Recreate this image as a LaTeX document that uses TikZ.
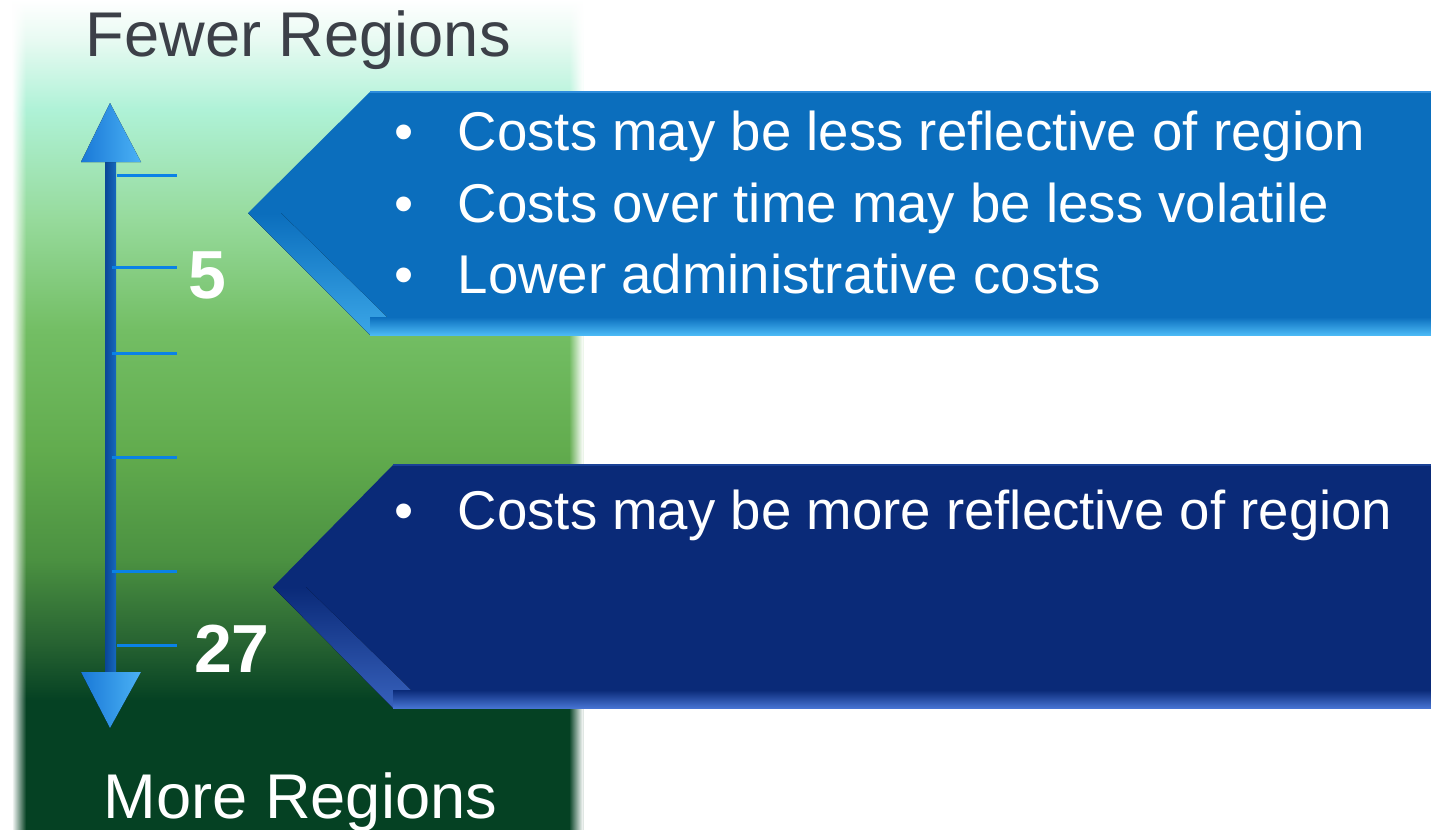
\documentclass[tikz,border=0pt]{standalone}
\usepackage{fontspec}
\setmainfont{Liberation Sans}
\usetikzlibrary{fadings}

\definecolor{bgdeep}{RGB}{5,65,35}
\definecolor{bgforest}{RGB}{40,100,50}
\definecolor{bgleaf}{RGB}{75,145,65}
\definecolor{bggrass}{RGB}{98,172,78}
\definecolor{bgfield}{RGB}{115,190,100}
\definecolor{bgpale}{RGB}{150,218,155}
\definecolor{bgmint}{RGB}{175,242,215}
\definecolor{bgmist}{RGB}{232,250,242}
\definecolor{fewergray}{RGB}{60,64,72}
\definecolor{upperblue}{RGB}{11,110,189}
\definecolor{upperbevel}{RGB}{75,185,245}
\definecolor{upperrim}{RGB}{45,140,220}
\definecolor{lowerblue}{RGB}{10,42,120}
\definecolor{lowerbevel}{RGB}{70,115,210}
\definecolor{lowerrim}{RGB}{25,65,150}
\definecolor{shaftblue}{RGB}{22,105,190}
\definecolor{shaftdark}{RGB}{10,70,150}
\definecolor{headblue}{RGB}{25,120,215}
\definecolor{headlight}{RGB}{75,178,245}
\definecolor{tickblue}{RGB}{10,130,230}

\pgfdeclareverticalshading{regionfade}{100bp}{color(0bp)=(bgdeep); color(32.8bp)=(bgdeep); color(36.4bp)=(bgforest); color(41.3bp)=(bgleaf); color(47.9bp)=(bggrass); color(55.1bp)=(bgfield); color(61.7bp)=(bgpale); color(68.4bp)=(bgmint); color(72.6bp)=(bgmist); color(75bp)=(white); color(100bp)=(white)}
\tikzfading[name=softleft, left color=transparent!0, right color=transparent!100]
\tikzfading[name=softright, left color=transparent!100, right color=transparent!0]

\tikzset{every picture/.style={line width=0.75pt}}
\tikzset{
  bullettext/.style={anchor=base west, inner sep=0pt, text=white, font=\fontsize{27.3}{33}\selectfont},
  bulletdot/.style={anchor=base, inner sep=0pt, text=white, font=\fontsize{27.3}{33}\selectfont},
  endlabel/.style={anchor=base west, inner sep=0pt, font=\fontsize{31.6}{38}\selectfont},
  countlabel/.style={anchor=base, inner sep=0pt, text=white, font=\fontsize{34}{40}\selectfont\bfseries},
  tick/.style={draw=tickblue, line width=1.5pt}
}

\begin{document}
\begin{tikzpicture}[x=0.5pt,y=0.5pt,yscale=-1]
	\useasboundingbox (0,0) rectangle (1431,830);

	%Shape: Rectangle [background]
	\fill [shading=regionfade] (12,0) rectangle (583,830);
	\fill [white, path fading=softleft] (12,0) rectangle (26,830);
	\fill [white, path fading=softright] (569,0) rectangle (583,830);

	%Shape: Pentagon [upper banner]
	\fill [upperblue] (248,213) -- (370,92) -- (1431,92) -- (1431,335) -- (370,335) -- cycle ;
	\fill [top color=upperblue, bottom color=upperbevel!75!upperblue] (248,213) -- (281,213) -- (388,318) -- (370,335) -- cycle ;
	\fill [top color=upperblue, bottom color=upperbevel] (370,317) -- (1431,317) -- (1431,335) -- (370,335) -- cycle ;
	\draw [upperrim, line width=1pt] (370,92) -- (1431,92) ;

	%Shape: Pentagon [lower banner]
	\fill [lowerblue] (273,587) -- (393,465) -- (1431,465) -- (1431,708) -- (393,708) -- cycle ;
	\fill [top color=lowerblue, bottom color=lowerbevel!75!lowerblue] (273,587) -- (306,587) -- (411,690) -- (393,708) -- cycle ;
	\fill [top color=lowerblue, bottom color=lowerbevel] (393,690) -- (1431,690) -- (1431,708) -- (393,708) -- cycle ;
	\draw [lowerrim, line width=1pt] (393,465) -- (1431,465) ;

	%Shape: Double Arrow [scale]
	\coordinate (axtop) at (110,103) ;
	\coordinate (axbot) at (110,728) ;
	\fill [left color=shaftdark, right color=shaftblue] (105,160) rectangle (116,674) ;
	\fill [left color=headblue, right color=headlight] (axtop) -- (141,162) -- (81,162) -- cycle ;
	\fill [left color=headblue, right color=headlight] (axbot) -- (141,672) -- (81,672) -- cycle ;

	%Straight Lines [ticks]
	\draw [tick] (117,175) -- (177,175) ;
	\draw [tick] (112,267) -- (177,267) ;
	\draw [tick] (112,353) -- (177,353) ;
	\draw [tick] (112,457) -- (177,457) ;
	\draw [tick] (112,571) -- (177,571) ;
	\draw [tick] (117,645) -- (177,645) ;

	% Text Node
	\draw (85,56) node (fewer) [endlabel, text=fewergray] {Fewer Regions};
	% Text Node
	\draw (103,818) node (more) [endlabel, text=white] {More Regions};
	% Text Node
	\draw (207,298) node (five) [countlabel] {5};
	% Text Node
	\draw (232,672) node (twentyseven) [countlabel] {27};

	% Text Node
	\draw (404,150) node (dotA) [bulletdot] {\textbullet};
	\draw (457,150) node (lessreflective) [bullettext] {Costs may be less reflective of region};
	% Text Node
	\draw (404,222) node (dotB) [bulletdot] {\textbullet};
	\draw (457,222) node (lessvolatile) [bullettext] {Costs over time may be less volatile};
	% Text Node
	\draw (404,293) node (dotC) [bulletdot] {\textbullet};
	\draw (457,293) node (lowercosts) [bullettext] {Lower administrative costs};
	% Text Node
	\draw (404,529) node (dotD) [bulletdot] {\textbullet};
	\draw (457,529) node (morereflective) [bullettext] {Costs may be more reflective of region};

\end{tikzpicture}
\end{document}
